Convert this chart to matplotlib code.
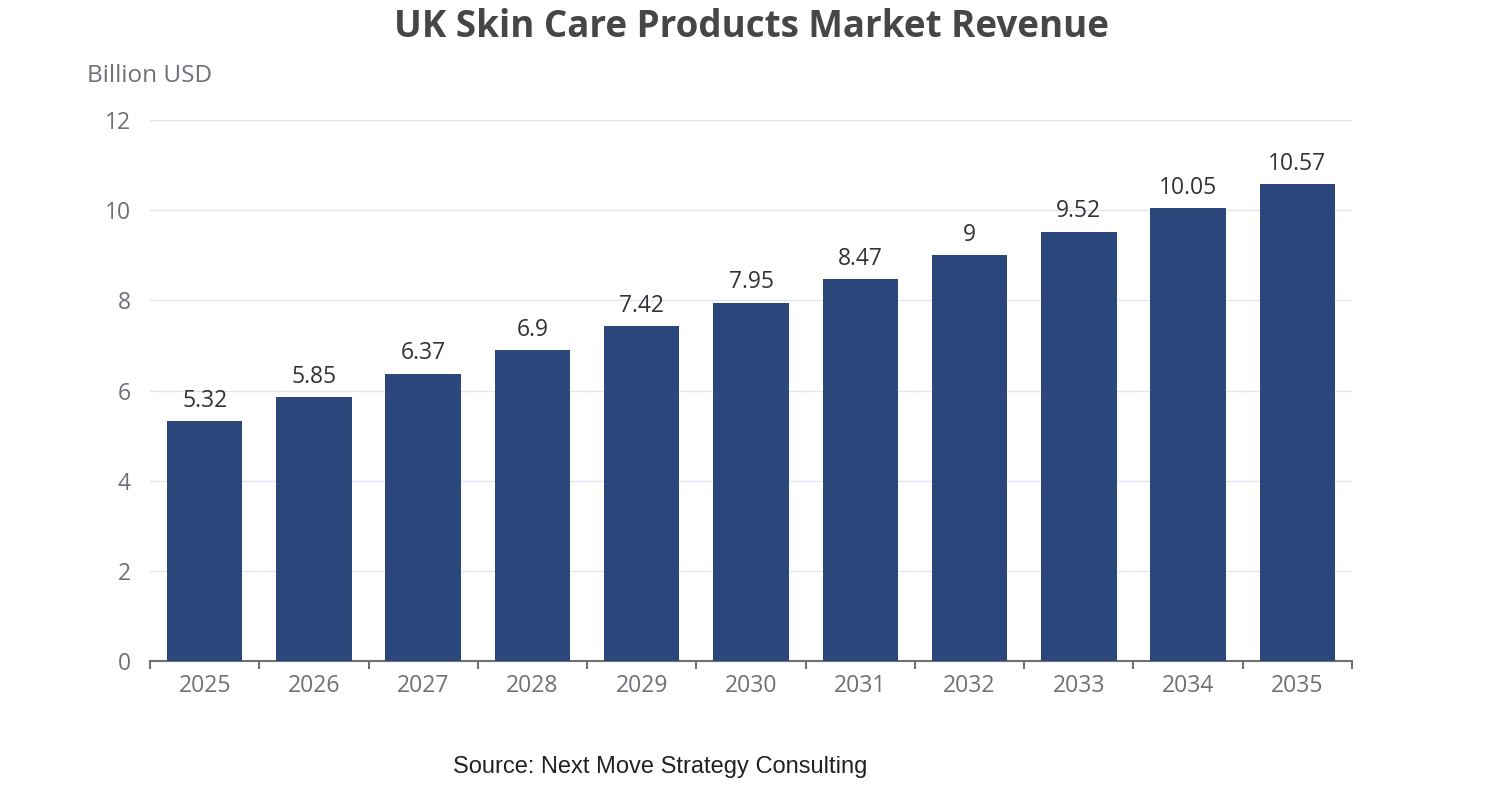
#!/usr/bin/env python3
# coding: utf-8

import numpy as np
import matplotlib
matplotlib.use('Agg')
import matplotlib.pyplot as plt

# --- chart data
years = ['2025', '2026', '2027', '2028', '2029', '2030',
         '2031', '2032', '2033', '2034', '2035']
revenue = [5.32, 5.85, 6.37, 6.9, 7.42, 7.95, 8.47, 9, 9.52, 10.05, 10.57]
y_ticks = [0, 2, 4, 6, 8, 10, 12]

plt.rcParams['font.family'] = ['Open Sans', 'DejaVu Sans']

fig = plt.figure(figsize=(15.02, 8), dpi=100)
ax = fig.add_axes([150 / 1502, 139 / 800, 1202 / 1502, 541 / 800])

x = np.arange(len(years))
bars = ax.bar(x, revenue, width=0.69, color='#2b477b', zorder=3)
ax.bar_label(bars, labels=[f'{v:g}' for v in revenue], padding=6,
             fontsize=16.5, color='#333333')

ax.set_xlim(-0.5, len(years) - 0.5)
ax.set_ylim(0, 12)
ax.set_yticks(y_ticks)
ax.set_yticklabels([str(t) for t in y_ticks], fontsize=16.5, color='#6e7079')
ax.tick_params(axis='y', length=0, pad=14)
ax.grid(axis='y', color='#e0e6f1', linewidth=1, zorder=0)

# --- category labels centred, ticks on boundaries (echarts style)
ax.set_xticks(x)
ax.set_xticklabels(years, fontsize=16.5, color='#6e7079')
ax.tick_params(axis='x', which='major', length=0, pad=9)
ax.set_xticks(np.arange(-0.5, len(years)), minor=True)
ax.tick_params(axis='x', which='minor', length=6, width=1.5,
               color='#6e7079')

for side in ['top', 'right', 'left']:
    ax.spines[side].set_visible(False)
ax.spines['bottom'].set_color('#6e7079')
ax.spines['bottom'].set_linewidth(1.5)

fig.text(150 / 1502, 1 - 76 / 800, 'Billion USD', fontsize=17.5,
         color='#6e7079', ha='center', va='center')
fig.text(0.5, 1 - 27 / 800, 'UK Skin Care Products Market Revenue',
         fontsize=26.5, fontweight='bold', color='#464646',
         ha='center', va='center')
fig.text(660 / 1502, 1 - 767 / 800, 'Source: Next Move Strategy Consulting',
         fontsize=17, color='#222222', ha='center', va='center',
         family='Liberation Sans')

fig.savefig('out.png', dpi=100)
